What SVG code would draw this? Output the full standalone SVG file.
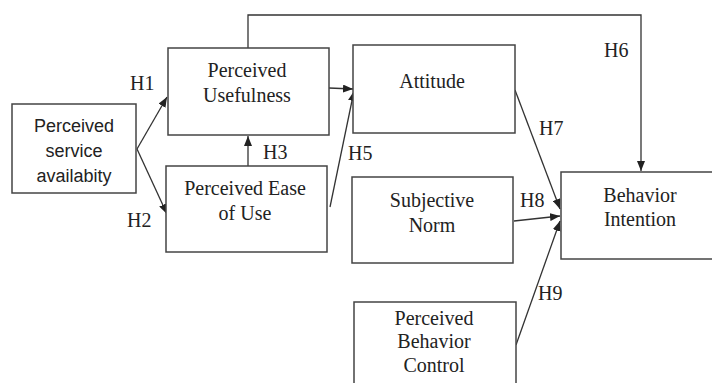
<svg xmlns="http://www.w3.org/2000/svg" width="712" height="383" viewBox="0 0 712 383">
<defs>
<marker id="arr" markerWidth="10" markerHeight="8" refX="10" refY="4" orient="auto" markerUnits="userSpaceOnUse">
<path d="M0,0 L10,4 L0,8 z" fill="#222"/>
</marker>
<style>
.box{fill:#fff;stroke:#444;stroke-width:1.5}
.serif{font-family:"Liberation Serif","Times New Roman",serif;font-size:20px;fill:#222}
.sans{font-family:"Liberation Sans",Arial,sans-serif;font-size:18px;fill:#222}
.c{text-anchor:middle}
.ln{fill:none;stroke:#333;stroke-width:1.3}
</style>
</defs>
<rect width="712" height="383" fill="#fff"/>
<g id="connectors">
<path class="ln" d="M248,135 V15 H641 V171" marker-end="url(#arr)"/>
<line class="ln" x1="137" y1="149" x2="167" y2="97" marker-end="url(#arr)"/>
<line class="ln" x1="137" y1="149" x2="167" y2="214" marker-end="url(#arr)"/>
<line class="ln" x1="248" y1="166" x2="248" y2="136" marker-end="url(#arr)"/>
<line class="ln" x1="329" y1="88" x2="353" y2="89" marker-end="url(#arr)"/>
<line class="ln" x1="330" y1="207" x2="354" y2="91" marker-end="url(#arr)"/>
<line class="ln" x1="515" y1="90" x2="560" y2="209" marker-end="url(#arr)"/>
<line class="ln" x1="514" y1="221" x2="560" y2="216" marker-end="url(#arr)"/>
<line class="ln" x1="516" y1="345" x2="560" y2="221" marker-end="url(#arr)"/>
</g>
<g id="labels">
<text class="serif" x="130" y="90">H1</text>
<text class="serif" x="127" y="227">H2</text>
<text class="serif" x="263" y="159">H3</text>
<text class="serif" x="298" y="85">H4</text>
<text class="serif" x="348" y="160">H5</text>
<text class="serif" x="604" y="57">H6</text>
<text class="serif" x="539" y="135">H7</text>
<text class="serif" x="520" y="207">H8</text>
<text class="serif" x="538" y="300">H9</text>
</g>
<g id="psa">
<rect class="box" x="12" y="104" width="124" height="89"/>
<text class="sans c" x="74" y="132">Perceived</text>
<text class="sans c" x="74" y="157">service</text>
<text class="sans c" x="74" y="182">availabity</text>
</g>
<g id="pu">
<rect class="box" x="168" y="48" width="161" height="87"/>
<text class="serif c" x="247" y="77">Perceived</text>
<text class="serif c" x="247" y="102">Usefulness</text>
</g>
<g id="peu">
<rect class="box" x="166" y="166" width="161" height="86"/>
<text class="serif c" x="245" y="195">Perceived Ease</text>
<text class="serif c" x="245" y="220">of Use</text>
</g>
<g id="attitude">
<rect class="box" x="353" y="45" width="162" height="88"/>
<text class="serif c" x="432" y="88">Attitude</text>
</g>
<g id="sn">
<rect class="box" x="352" y="177" width="161" height="86"/>
<text class="serif c" x="432" y="207">Subjective</text>
<text class="serif c" x="432" y="232">Norm</text>
</g>
<g id="pbc">
<rect class="box" x="354" y="302" width="162" height="90"/>
<text class="serif c" x="434" y="325">Perceived</text>
<text class="serif c" x="434" y="348">Behavior</text>
<text class="serif c" x="434" y="372">Control</text>
</g>
<g id="bi">
<rect class="box" x="561" y="172" width="160" height="87"/>
<text class="serif c" x="640" y="202">Behavior</text>
<text class="serif c" x="640" y="226">Intention</text>
</g>
</svg>
